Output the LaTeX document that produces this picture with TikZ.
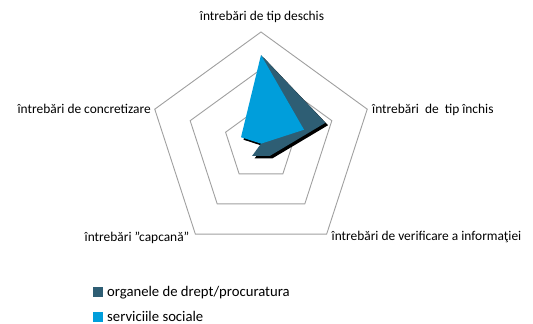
\documentclass[tikz,border=0pt]{standalone}
\usepackage{fontspec}
\setmainfont{Carlito}
\definecolor{darkser}{RGB}{46,94,116}
\definecolor{blueser}{RGB}{0,158,219}
\definecolor{gridgray}{RGB}{160,160,160}
\begin{document}
\begin{tikzpicture}[x=1pt,y=1pt,
  grid/.style={draw=gridgray,line width=0.9pt,line join=miter},
  lbl/.style={font=\fontsize{13.4}{15}\selectfont,inner sep=0pt,text=black},
  leglbl/.style={font=\fontsize{14.7}{16}\selectfont,inner sep=0pt,text=black},
  shadowfill/.style={fill=black},
  legsq/.style={minimum width=10pt,minimum height=10pt,inner sep=0pt}]
\useasboundingbox (0,0) rectangle (533,324);
\fill[white] (0,0) rectangle (533,324);
\def\R{111.7}
\begin{scope}[shift={(261,180.3)}]
  \foreach \f in {0.3333,0.6667,1}{
    \draw[grid] (90:\f*\R) -- (18:\f*\R) -- (-54:\f*\R) -- (-126:\f*\R) -- (162:\f*\R) -- cycle;
  }
  % shadows
  \begin{scope}[shift={(2.5,-2.5)}]
    \fill[shadowfill] (90:0.794*\R) -- (18:0.607*\R) -- (-54:0.135*\R) -- (-126:0.135*\R) -- (0,0) -- cycle;
    \fill[shadowfill] (90:0.794*\R) -- (18:0.405*\R) -- (0,0) -- (162:0.188*\R) -- cycle;
  \end{scope}
  % organele de drept
  \fill[darkser] (90:0.794*\R) -- (18:0.607*\R) -- (-54:0.135*\R) -- (-126:0.135*\R) -- (0,0) -- cycle;
  % serviciile sociale
  \fill[blueser] (90:0.794*\R) -- (18:0.405*\R) -- (0,0) -- (162:0.188*\R) -- cycle;
\end{scope}
\node[lbl] (top) at (262,307) {întrebări de tip deschis};
\node[lbl,anchor=west] (right) at (372,214) {întrebări\ \ de\ \ tip închis};
\node[lbl,anchor=west] (br) at (331.5,87) {întrebări de verificare a informaţiei};
\node[lbl,anchor=east] (bl) at (189.5,86) {întrebări \char34capcană\char34};
\node[lbl,anchor=east] (left) at (151,215) {întrebări de concretizare};
\node[legsq,fill=darkser] (sq1) at (98,31.5) {};
\node[legsq,fill=blueser] (sq2) at (98,7.3) {};
\node[leglbl,anchor=west] (l1) at (107,31.5) {organele de drept/procuratura};
\node[leglbl,anchor=west] (l2) at (107,7.3) {serviciile sociale};
\end{tikzpicture}
\end{document}
